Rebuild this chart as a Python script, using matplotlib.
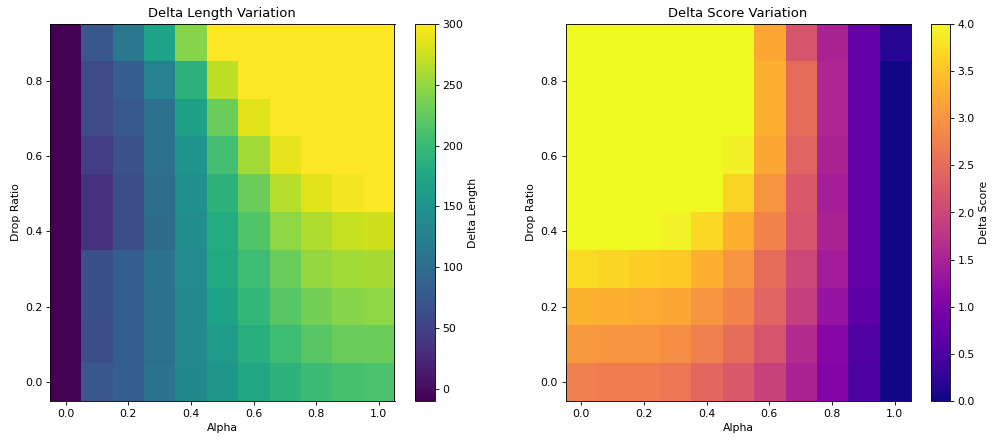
import numpy as np
import matplotlib
matplotlib.use("Agg")
import matplotlib.pyplot as plt

alphas = [0.0, 0.1, 0.2, 0.3, 0.4, 0.5, 0.6, 0.7, 0.8, 0.9, 1.0]
drop_ratios = [0.0, 0.1, 0.2, 0.3, 0.4, 0.5, 0.6, 0.7, 0.8, 0.9]

# rows: drop ratio 0.0 .. 0.9 ; columns: alpha 0.0 .. 1.0
delta_length = [
    [-10, 74, 83, 108, 133, 154, 176, 191, 203, 210, 212],
    [-10, 64, 83, 105, 136, 160, 185, 204, 219, 229, 230],
    [-10, 66, 83, 105, 136, 170, 195, 219, 235, 244, 247],
    [-10, 66, 83, 108, 139, 179, 204, 229, 251, 257, 260],
    [-10, 36, 64, 99, 142, 182, 216, 247, 263, 273, 278],
    [-10, 36, 64, 102, 145, 191, 230, 266, 285, 294, 300],
    [-10, 46, 67, 105, 151, 207, 257, 288, 300, 300, 300],
    [-10, 58, 77, 105, 167, 230, 285, 300, 300, 300, 300],
    [-10, 58, 83, 126, 191, 270, 300, 300, 300, 300, 300],
    [-10, 74, 114, 170, 244, 300, 300, 300, 300, 300, 300],
]

delta_score = [
    [2.75, 2.73, 2.72, 2.66, 2.45, 2.25, 1.95, 1.50, 1.05, 0.50, 0.02],
    [3.04, 3.03, 3.00, 2.95, 2.75, 2.50, 2.20, 1.62, 1.10, 0.55, 0.02],
    [3.32, 3.30, 3.25, 3.20, 3.00, 2.80, 2.40, 1.90, 1.28, 0.70, 0.02],
    [3.72, 3.66, 3.60, 3.55, 3.30, 3.00, 2.50, 2.00, 1.42, 0.72, 0.02],
    [4.00, 4.00, 4.00, 3.95, 3.70, 3.30, 2.80, 2.20, 1.50, 0.74, 0.02],
    [4.00, 4.00, 4.00, 4.00, 4.00, 3.65, 3.00, 2.25, 1.45, 0.75, 0.02],
    [4.00, 4.00, 4.00, 4.00, 4.00, 3.92, 3.20, 2.40, 1.50, 0.75, 0.02],
    [4.00, 4.00, 4.00, 4.00, 4.00, 4.00, 3.30, 2.50, 1.55, 0.75, 0.02],
    [4.00, 4.00, 4.00, 4.00, 4.00, 4.00, 3.30, 2.50, 1.55, 0.75, 0.02],
    [4.00, 4.00, 4.00, 4.00, 4.00, 4.00, 3.20, 2.20, 1.50, 0.75, 0.18],
]

s = 0.785
plt.rcParams.update({
    "font.size": 10 * s,
    "axes.linewidth": 0.8 * s,
    "xtick.major.size": 3.5 * s,
    "ytick.major.size": 3.5 * s,
    "xtick.major.width": 0.8 * s,
    "ytick.major.width": 0.8 * s,
    "xtick.major.pad": 3.5 * s,
    "ytick.major.pad": 3.5 * s,
    "axes.titlepad": 6 * s,
    "axes.labelpad": 4 * s,
})

fig = plt.figure(figsize=(10, 4.44), dpi=100)
W, H = 1000, 444
def rect(x0, y0, x1, y1):
    return [x0 / W, 1 - y1 / H, (x1 - x0) / W, (y1 - y0) / H]

ax1 = fig.add_axes(rect(50, 24, 394.5, 401))
cax1 = fig.add_axes(rect(415, 24, 435, 401))
ax2 = fig.add_axes(rect(565.5, 24, 910.5, 401))
cax2 = fig.add_axes(rect(931, 24, 950, 401))

da = alphas[1] - alphas[0]
dd = drop_ratios[1] - drop_ratios[0]
extent = [alphas[0] - da / 2, alphas[-1] + da / 2,
          drop_ratios[0] - dd / 2, drop_ratios[-1] + dd / 2]

im1 = ax1.imshow(np.array(delta_length), origin="lower", extent=extent,
                 aspect="auto", cmap="viridis", vmin=-10, vmax=300,
                 interpolation="nearest")
ax1.set_title("Delta Length Variation")
ax1.set_xlabel("Alpha")
ax1.set_ylabel("Drop Ratio")
cb1 = fig.colorbar(im1, cax=cax1)
cb1.set_label("Delta Length")
cb1.set_ticks([0, 50, 100, 150, 200, 250, 300])

im2 = ax2.imshow(np.array(delta_score), origin="lower", extent=extent,
                 aspect="auto", cmap="plasma", vmin=0, vmax=4,
                 interpolation="nearest")
ax2.set_title("Delta Score Variation")
ax2.set_xlabel("Alpha")
ax2.set_ylabel("Drop Ratio")
cb2 = fig.colorbar(im2, cax=cax2)
cb2.set_label("Delta Score")
cb2.set_ticks([0.0, 0.5, 1.0, 1.5, 2.0, 2.5, 3.0, 3.5, 4.0])

for ax in (ax1, ax2):
    ax.set_xticks([0.0, 0.2, 0.4, 0.6, 0.8, 1.0])
    ax.set_yticks([0.0, 0.2, 0.4, 0.6, 0.8])
for cb in (cb1, cb2):
    cb.outline.set_linewidth(0.8 * s)

fig.savefig("out.png", dpi=100)
